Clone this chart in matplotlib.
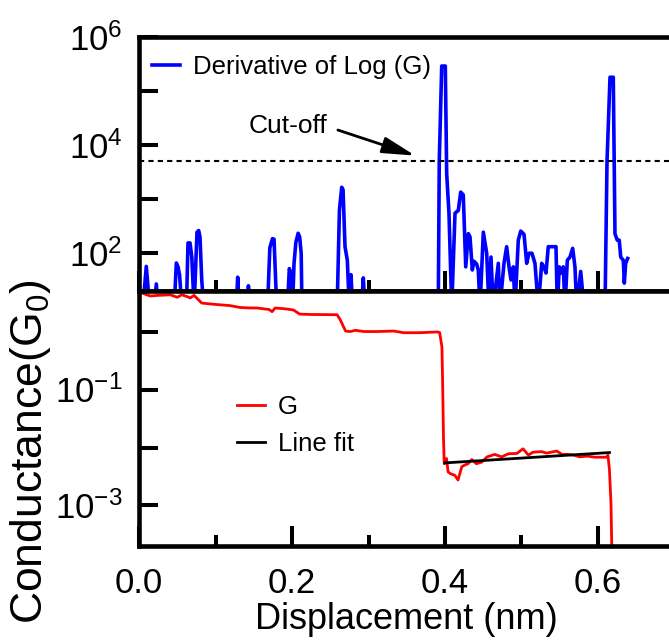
import numpy as np
import matplotlib
matplotlib.use("Agg")
import matplotlib.pyplot as plt
from matplotlib.ticker import FixedLocator, FuncFormatter, NullLocator

plt.rcParams['font.family'] = ['Liberation Sans', 'DejaVu Sans']
plt.rcParams['mathtext.fontset'] = 'custom'
plt.rcParams['mathtext.rm'] = 'Liberation Sans'
plt.rcParams['mathtext.it'] = 'Liberation Sans:italic'

# derivative of log(G) (10 = below the axis, off scale)
deriv_x = [0.005, 0.0095, 0.014, 0.020, 0.0226, 0.025, 0.046, 0.0488, 0.051, 0.053, 0.056,
           0.062, 0.064, 0.0667, 0.069, 0.072, 0.0758, 0.078, 0.0797, 0.082, 0.0846,
           0.127, 0.129, 0.131, 0.142, 0.143, 0.145, 0.168, 0.171, 0.1745, 0.1765, 0.180,
           0.194, 0.1965, 0.199, 0.2007, 0.2026, 0.205, 0.208, 0.210, 0.212, 0.213,
           0.259, 0.262, 0.265, 0.2667, 0.2693, 0.2723, 0.2749, 0.2771, 0.2793,
           0.2908, 0.2932, 0.2954,
           0.3912, 0.3925, 0.3957, 0.4004, 0.4022, 0.4052, 0.4088, 0.4131, 0.4174, 0.4205,
           0.4239, 0.4271, 0.4305, 0.4327, 0.4357, 0.4379, 0.4414, 0.4435, 0.4458, 0.4501,
           0.4545, 0.4575, 0.4601, 0.4631, 0.4697, 0.4719, 0.4771, 0.4806, 0.4837, 0.4863,
           0.4893, 0.4915, 0.4958, 0.4990, 0.5033, 0.5068, 0.5098, 0.5137, 0.5176, 0.5220,
           0.5264, 0.5294, 0.5320, 0.5350, 0.5451, 0.5468, 0.5494, 0.5516, 0.5546, 0.5569,
           0.5599, 0.5634, 0.5669, 0.5699, 0.5722, 0.5774, 0.5817,
           0.6092, 0.6118, 0.6157, 0.6200, 0.6222, 0.6252, 0.6278, 0.6297, 0.6331, 0.6344,
           0.6362, 0.6388]
deriv_y = [10, 57, 10, 10, 27, 10, 10, 66, 56, 40, 10,
           10, 155, 155, 85, 10, 245, 263, 200, 32, 10,
           10, 36, 10, 10, 25, 10, 10, 126, 186, 182, 10,
           10, 52, 40, 10, 63, 158, 234, 200, 100, 10,
           10, 630, 1660, 1500, 132, 74, 10, 40, 10,
           10, 35, 10,
           10, 5000, 2.9e5, 2.9e5, 2950, 550, 10, 550, 620, 1350,
           1200, 56, 230, 200, 49, 71, 63, 49, 10, 245,
           100, 10, 85, 10, 65, 10, 65, 132, 56, 32,
           56, 10, 174, 257, 224, 65, 100, 100, 65, 10,
           65, 56, 43, 132, 132, 10, 56, 43, 56, 10,
           74, 85, 123, 56, 10, 46, 10,
           10, 5000, 1.8e5, 1.8e5, 230, 174, 174, 85, 74, 28,
           65, 80]

# conductance trace
g_x = [0.000, 0.006, 0.015, 0.024, 0.041, 0.050, 0.056, 0.063, 0.067, 0.072, 0.078, 0.082,
       0.098, 0.119, 0.132, 0.145, 0.154, 0.170, 0.174, 0.178, 0.193, 0.202, 0.210, 0.224,
       0.259, 0.263, 0.270, 0.276, 0.283, 0.294, 0.311, 0.333, 0.346, 0.367, 0.390, 0.393,
       0.396, 0.397, 0.398, 0.399, 0.402, 0.404, 0.407, 0.413, 0.417, 0.422, 0.426, 0.430,
       0.435, 0.441, 0.448, 0.455, 0.465, 0.474, 0.483, 0.494, 0.502, 0.509, 0.515, 0.526,
       0.533, 0.546, 0.553, 0.561, 0.568, 0.576, 0.586, 0.596, 0.611, 0.613, 0.615, 0.617,
       0.618, 0.619]
g_y = [4.9, 4.5, 4.1, 4.2, 4.3, 3.9, 4.3, 4.0, 3.8, 4.2, 3.5, 3.1,
       2.95, 2.8, 2.6, 2.55, 2.55, 2.4, 2.2, 2.55, 2.45, 2.35, 2.0, 1.97,
       1.95, 1.6, 1.02, 1.0, 1.05, 1.0, 1.0, 1.02, 0.955, 0.955, 0.985, 0.96,
       0.54, 0.111, 0.0151, 0.00525, 0.00646, 0.0038, 0.00355, 0.0033, 0.00275, 0.00468, 0.0050, 0.00525,
       0.0062, 0.00525, 0.0056, 0.0069, 0.0076, 0.0069, 0.0078, 0.0079, 0.0095, 0.0074, 0.0083, 0.0085,
       0.0080, 0.0087, 0.0076, 0.0076, 0.0074, 0.0069, 0.0071, 0.0068, 0.0068, 0.0074, 0.0041, 0.00107,
       0.0002, 0.0001]

# line fit over the second plateau
fit_x = [0.400, 0.615]
fit_y = [5.43e-3, 8.18e-3]

cutoff = 5000

fig = plt.figure(figsize=(6.69, 6.42), dpi=100)
ax1 = fig.add_axes([0.2078, 0.5467, 0.8004, 0.3957])
ax2 = fig.add_axes([0.2078, 0.1495, 0.8004, 0.3972])

ax1.plot(deriv_x, deriv_y, color='#0000ff', lw=2.6, label='Derivative of Log (G)')
ax1.axhline(cutoff, color='k', lw=1.5, ls=(0, (2.5, 2)))
ax1.text(0.195, 23000, 'Cut-off', fontsize=19, ha='center', va='center')
ax1.annotate('', xy=(0.361, 6400), xytext=(0.260, 19000),
             arrowprops=dict(arrowstyle='-|>,head_length=1.0,head_width=0.25',
                             color='k', lw=2, shrinkA=0, shrinkB=0, mutation_scale=20))

ax2.plot(g_x, g_y, color='#ff0000', lw=2.0, label='G')
ax2.plot(fit_x, fit_y, color='k', lw=2.0, label='Line fit')


def dec_fmt(keep):
    def f(v, pos):
        e = int(round(np.log10(v)))
        return '$10^{%d}$' % e if e % 2 == keep else ''
    return FuncFormatter(f)


for ax in (ax1, ax2):
    ax.set_yscale('log')
    ax.set_xlim(0, 0.7)
    ax.xaxis.set_major_locator(FixedLocator([0, 0.2, 0.4, 0.6]))
    ax.xaxis.set_minor_locator(FixedLocator([0.1, 0.3, 0.5]))
    ax.yaxis.set_minor_locator(NullLocator())
    for s in ax.spines.values():
        s.set_linewidth(3.3)
    ax.spines['right'].set_visible(False)
    ax.tick_params(axis='y', direction='in', length=13.5, width=2.9, labelsize=25, pad=12)
    ax.tick_params(axis='x', which='major', direction='in', length=14.4, width=2.9,
                   labelsize=25, pad=15)
    ax.tick_params(axis='x', which='minor', direction='in', length=8, width=2.9)

ax1.set_ylim(20, 1e6)
ax1.yaxis.set_major_locator(FixedLocator([1e2, 1e3, 1e4, 1e5, 1e6]))
ax1.yaxis.set_major_formatter(dec_fmt(0))
ax1.tick_params(axis='x', labelbottom=False)

ax2.set_ylim(2e-4, 5)
ax2.yaxis.set_major_locator(FixedLocator([1e-3, 1e-2, 1e-1, 1e0]))
ax2.yaxis.set_major_formatter(dec_fmt(1))

ax1.legend(loc='upper left', bbox_to_anchor=(0.2272, 0.914), bbox_transform=fig.transFigure,
           frameon=False, fontsize=18.5, handlelength=1.1, handletextpad=0.5,
           borderpad=0, borderaxespad=0)
ax2.legend(loc='upper left', bbox_to_anchor=(0.3543, 0.384), bbox_transform=fig.transFigure,
           frameon=False, fontsize=18.5, handlelength=1.1, handletextpad=0.5,
           borderpad=0, borderaxespad=0, labelspacing=0.47)

fig.text(0.607, 0.035, 'Displacement (nm)', fontsize=26, ha='center', va='center')
fig.text(0.046, 0.296, 'Conductance(G$_0$)', fontsize=32, rotation=90, ha='center', va='center')

fig.savefig('out.png', dpi=100)
